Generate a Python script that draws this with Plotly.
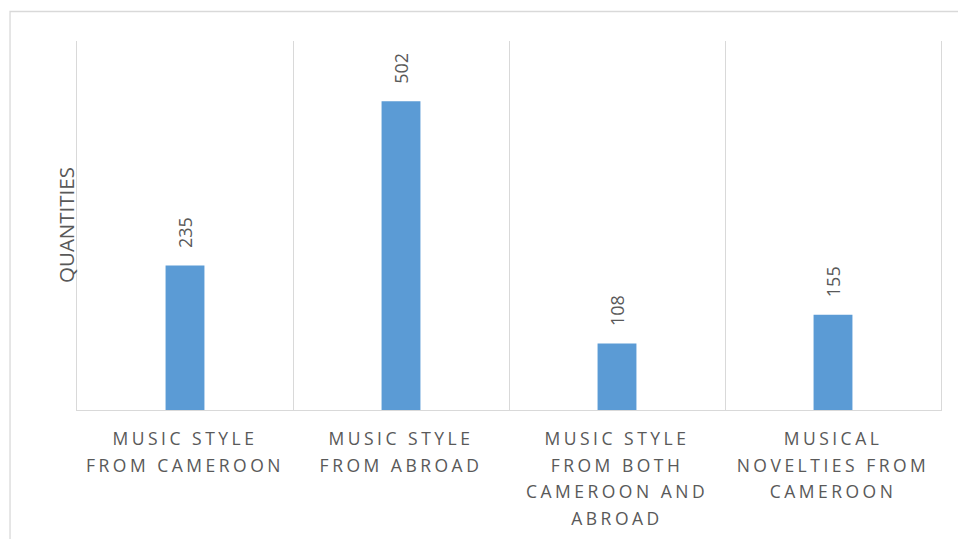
import plotly.graph_objects as go

categories = [
    ["MUSIC STYLE", "FROM CAMEROON"],
    ["MUSIC STYLE", "FROM ABROAD"],
    ["MUSIC STYLE", "FROM BOTH", "CAMEROON AND", "ABROAD"],
    ["MUSICAL", "NOVELTIES FROM", "CAMEROON"],
]
values = [235, 502, 108, 155]
y_title = "QUANTITIES"

cat_keys = ["<br>".join(c) for c in categories]
SPAN = '<span style="font-size:17.5px;letter-spacing:3.5px">{}</span>'
tick_text = ["<br>".join(SPAN.format(line) for line in c) for c in categories]

GREY = "#595959"
LINE = "#D9D9D9"
BAR = "#5B9BD5"

fig = go.Figure()
fig.add_trace(go.Bar(x=cat_keys, y=values, width=0.18, marker=dict(color=BAR, line=dict(width=0)),
                     hoverinfo="skip"))

for k, v in zip(cat_keys, values):
    fig.add_annotation(x=k, y=v, text=str(v), textangle=-90, showarrow=False,
                       xanchor="center", yanchor="bottom", yshift=15,
                       font=dict(family="Open Sans", size=18, color=GREY))

fig.add_annotation(xref="paper", yref="paper", x=-0.0133, y=0.5, text=y_title, textangle=-90,
                   showarrow=False, xanchor="center", yanchor="middle",
                   font=dict(family="Open Sans", size=20.5, color=GREY))

fig.add_shape(type="rect", xref="paper", yref="paper", x0=-0.0775, x1=1.3, y0=-1, y1=1.080,
              line=dict(color=LINE, width=1.3), fillcolor="rgba(0,0,0,0)", layer="below")

fig.update_layout(
    width=958, height=539,
    margin=dict(l=77, r=17, t=41, b=129),
    paper_bgcolor="white", plot_bgcolor="white",
    showlegend=False,
    xaxis=dict(type="category", tickmode="array", tickvals=cat_keys, ticktext=tick_text,
               tickson="boundaries", showgrid=True, gridcolor=LINE, gridwidth=1.3,
               showline=True, linecolor=LINE, linewidth=1.3, ticks="", ticklabelstandoff=9,
               tickfont=dict(family="Open Sans", size=20.6, color=GREY), tickangle=0,
               range=[-0.5, 3.5], automargin=False),
    yaxis=dict(range=[0, 600], showticklabels=False, showgrid=False, zeroline=False,
               showline=True, mirror=True, linecolor=LINE, linewidth=1.3,
               ticks="", automargin=False),
)

fig.write_html("out.html")
